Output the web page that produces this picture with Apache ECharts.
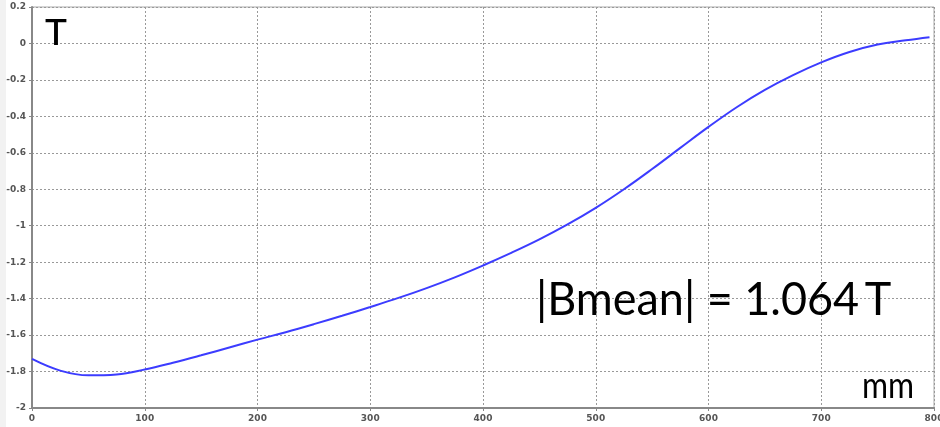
<!DOCTYPE html>
<html>
<head>
<meta charset="utf-8">
<script src="https://cdn.jsdelivr.net/npm/echarts@6/dist/echarts.min.js"></script>
<style>
  html, body { margin: 0; padding: 0; background: #fff; }
  #chart { width: 940px; height: 427px; }
</style>
</head>
<body>
<div id="chart"></div>
<script>
// Field profile along the axis: position (mm) and field (T)
const positions = [0, 25, 50, 75, 100, 125, 150, 175, 200, 225, 250, 275, 300, 325, 350, 375,
  400, 425, 450, 475, 500, 525, 550, 575, 600, 625, 650, 675, 700, 725, 750, 775, 796];
const fieldT = [-1.731, -1.795, -1.821, -1.816, -1.789, -1.752, -1.711, -1.668, -1.625, -1.584,
  -1.540, -1.494, -1.446, -1.396, -1.342, -1.283, -1.218, -1.149, -1.075, -0.993, -0.902,
  -0.800, -0.689, -0.573, -0.458, -0.350, -0.255, -0.174, -0.104, -0.047, -0.006, 0.017, 0.034];

const xTicks = { min: 0, max: 800, step: 100 };
const yTicks = { min: -2, max: 0.2, step: 0.2 };

const unitY = 'T';
const unitX = 'mm';
const meanLabel = '|Bmean| = 1.064\u2009T';

const chart = echarts.init(document.getElementById('chart'), null, { renderer: 'canvas' });

const tickFont = { color: '#555', fontSize: 9, fontFamily: 'DejaVu Sans', fontWeight: 'bold' };

chart.setOption({
  animation: false,
  backgroundColor: '#ffffff',
  grid: {
    left: 32, right: 6, top: 7, bottom: 19,
    outerBoundsMode: 'none', containLabel: false,
    show: true, borderColor: '#aaa', borderWidth: 1
  },
  xAxis: {
    type: 'value',
    min: xTicks.min, max: xTicks.max, interval: xTicks.step,
    axisLine: { onZero: false, lineStyle: { color: '#888', width: 2 } },
    axisTick: { show: true, length: 3, lineStyle: { color: '#888' } },
    axisLabel: Object.assign({ margin: 6, hideOverlap: false }, tickFont),
    splitLine: { show: true, lineStyle: { color: '#999', type: [2, 2], width: 1 } }
  },
  yAxis: {
    type: 'value',
    min: yTicks.min, max: yTicks.max, interval: yTicks.step,
    axisLine: { onZero: false, lineStyle: { color: '#888', width: 2 } },
    axisTick: { show: true, length: 3, lineStyle: { color: '#888' } },
    axisLabel: Object.assign({ margin: 6 }, tickFont),
    splitLine: { show: true, lineStyle: { color: '#999', type: [2, 2], width: 1 } }
  },
  series: [{
    type: 'line',
    data: positions.map((x, i) => [x, fieldT[i]]),
    showSymbol: false,
    smooth: 0.4,
    lineStyle: { color: '#3c3cff', width: 2 },
    z: 5
  }],
  graphic: [
    { type: 'rect', left: 0, top: 0, shape: { width: 6, height: 427 }, style: { fill: '#f2f2f2' }, silent: true },
    { type: 'text', x: 45, y: 15, style: { text: unitY, font: '500 37px Lato', fill: '#000' }, z: 10 },
    { type: 'text', x: 862, y: 368, scaleX: 0.88, style: { text: unitX, font: '36px Lato', fill: '#000' }, z: 10 },
    { type: 'text', x: 536, y: 276, scaleX: 0.956, style: { text: meanLabel, font: '47px Lato', fill: '#000' }, z: 10 }
  ]
});
</script>
</body>
</html>
